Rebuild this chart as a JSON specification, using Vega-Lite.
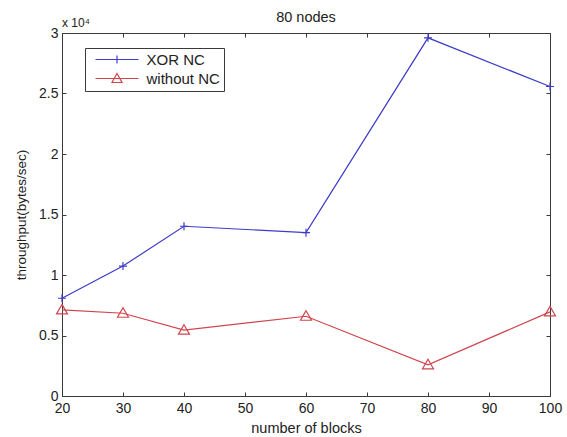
{
  "$schema": "https://vega.github.io/schema/vega-lite/v6.json",
  "width": 488,
  "height": 363,
  "autosize": "none",
  "padding": {"left": 62, "top": 33, "right": 17, "bottom": 41},
  "background": "white",
  "config": {
    "font": "Liberation Sans",
    "view": {"stroke": "#3a3a3a", "strokeWidth": 1},
    "axis": {
      "grid": false,
      "domainColor": "#3a3a3a",
      "tickColor": "#3a3a3a",
      "labelColor": "#222222",
      "labelFont": "Liberation Sans",
      "labelFontSize": 14,
      "labelFlush": false,
      "titleFont": "Liberation Sans",
      "titleFontSize": 14,
      "titleFontWeight": "normal",
      "titleColor": "#222222",
      "tickSize": -4,
      "domainWidth": 1
    }
  },
  "title": {"text": "80 nodes", "fontSize": 14.5, "fontWeight": "normal", "font": "Liberation Sans", "color": "#222222", "offset": -8},
  "data": {
    "values": [
      {"blocks": 20, "throughput": 8080, "series": "XOR NC"},
      {"blocks": 30, "throughput": 10740, "series": "XOR NC"},
      {"blocks": 40, "throughput": 14030, "series": "XOR NC"},
      {"blocks": 60, "throughput": 13500, "series": "XOR NC"},
      {"blocks": 80, "throughput": 29600, "series": "XOR NC"},
      {"blocks": 100, "throughput": 25580, "series": "XOR NC"},
      {"blocks": 20, "throughput": 7120, "series": "without NC"},
      {"blocks": 30, "throughput": 6840, "series": "without NC"},
      {"blocks": 40, "throughput": 5440, "series": "without NC"},
      {"blocks": 60, "throughput": 6590, "series": "without NC"},
      {"blocks": 80, "throughput": 2580, "series": "without NC"},
      {"blocks": 100, "throughput": 6950, "series": "without NC"}
    ]
  },
  "layer": [
    {
      "mark": {"type": "line", "strokeWidth": 1.2},
      "encoding": {
        "x": {"field": "blocks", "type": "quantitative", "scale": {"domain": [20, 100], "nice": false},
          "axis": {"values": [20, 30, 40, 50, 60, 70, 80, 90, 100], "title": "number of blocks", "titleFontSize": 14.5, "labelPadding": 9, "titlePadding": 6}},
        "y": {"field": "throughput", "type": "quantitative", "scale": {"domain": [0, 30000], "nice": false},
          "axis": {"values": [0, 5000, 10000, 15000, 20000, 25000, 30000], "labelExpr": "datum.value/10000", "title": "throughput(bytes/sec)", "titleFontSize": 13.5, "labelPadding": 8, "titlePadding": 10}},
        "color": {"field": "series", "type": "nominal",
          "scale": {"domain": ["XOR NC", "without NC"], "range": ["#3c3cc8", "#d0454d"]},
          "legend": {
            "orient": "none", "legendX": 23, "legendY": 15, "title": null,
            "strokeColor": "#3a3a3a", "fillColor": "white", "padding": 4,
            "labelFontSize": 15, "labelFont": "Liberation Sans", "labelColor": "#222222",
            "symbolSize": 100, "symbolStrokeWidth": 1.2, "labelOffset": 22, "rowPadding": 3,
            "symbolOffset": 20.5, "symbolFillColor": "transparent",
            "encode": {"symbols": {"update": {"shape": {"signal": "datum.value == 'XOR NC' ? 'M-4.3,0H4.3M0,-0.8V0.8' : 'M-4.3,0H4.3M0,-1L1,0.8L-1,0.8Z'"}}}}
          }}
      }
    },
    {
      "transform": [{"filter": "datum.series == 'XOR NC'"}],
      "mark": {"type": "point", "filled": false, "strokeWidth": 1.2, "opacity": 1, "size": 100, "shape": "M-0.8,0H0.8M0,-0.8V0.8"},
      "encoding": {
        "x": {"field": "blocks", "type": "quantitative", "axis": null},
        "y": {"field": "throughput", "type": "quantitative", "axis": null},
        "color": {"field": "series", "type": "nominal"}
      }
    },
    {
      "transform": [{"filter": "datum.series == 'without NC'"}],
      "mark": {"type": "point", "filled": false, "strokeWidth": 1.2, "opacity": 1, "size": 100, "shape": "M0,-1.1L1.1,0.8L-1.1,0.8Z"},
      "encoding": {
        "x": {"field": "blocks", "type": "quantitative", "axis": null},
        "y": {"field": "throughput", "type": "quantitative", "axis": null},
        "color": {"field": "series", "type": "nominal"}
      }
    },
    {
      "mark": {"type": "point", "opacity": 0},
      "encoding": {
        "x": {"field": "blocks", "type": "quantitative",
          "axis": {"orient": "top", "values": [20, 30, 40, 50, 60, 70, 80, 90, 100], "labels": false, "title": null}},
        "y": {"field": "throughput", "type": "quantitative",
          "axis": {"orient": "right", "values": [0, 5000, 10000, 15000, 20000, 25000, 30000], "labels": false, "title": null}}
      }
    },
    {
      "data": {"values": [{"blocks": 20, "throughput": 30000, "label": "x 10⁴"}]},
      "mark": {"type": "text", "align": "left", "baseline": "alphabetic", "dx": 0, "dy": -6, "fontSize": 12, "font": "Liberation Sans", "color": "#222222"},
      "encoding": {
        "x": {"field": "blocks", "type": "quantitative", "axis": null},
        "y": {"field": "throughput", "type": "quantitative", "axis": null},
        "text": {"field": "label"}
      }
    }
  ],
  "resolve": {"axis": {"x": "independent", "y": "independent"}}
}
